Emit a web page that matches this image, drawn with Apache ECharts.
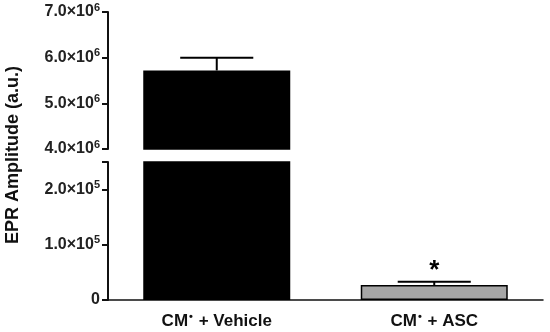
<!DOCTYPE html>
<html><head><meta charset="utf-8">
<script src="https://cdn.jsdelivr.net/npm/echarts@6/dist/echarts.min.js"></script>
<style>html,body{margin:0;padding:0;background:#fff}#c{width:550px;height:332px}</style>
</head><body><div id="c"></div>
<script>
// ---- data ----
const categories = ['Vehicle', 'ASC'];
const catPrefix = 'CM';
const means = [5.72e6, 2.7e4];
const errHigh = [6.0e6, 3.3e4];
const significant = [false, true];
const barColors = ['#000000', '#a6a6a6'];
const topTicks = [4e6, 5e6, 6e6, 7e6];
const bottomTicks = [0, 1e5, 2e5];
const topRange = [4e6, 7e6];
const bottomRange = [0, 2.5e5];
const yTitle = 'EPR Amplitude (a.u.)';

const FONT = 'Liberation Sans, Arial, sans-serif';
const chart = echarts.init(document.getElementById('c'), null, {renderer: 'canvas'});

function sciLabel(ticks) {
  return function (v) {
    if (ticks.indexOf(v) < 0) return '';
    if (v === 0) return '{n|0}';
    const e = Math.floor(Math.log10(v));
    const m = (v / Math.pow(10, e)).toFixed(1);
    return '{n|' + m + '×10}{s|' + e + '}';
  };
}
const labelRich = {
  n: {fontFamily: FONT, fontWeight: 'bold', fontSize: 16, color: '#222'},
  s: {fontFamily: FONT, fontWeight: 'bold', fontSize: 11, color: '#222', padding: [0, 0, 9, 0]}
};
function yAxisCfg(grid, range, ticks) {
  return {
    gridIndex: grid, type: 'value', min: range[0], max: range[1], interval: ticks[1] - ticks[0],
    axisLine: {show: true, lineStyle: {color: '#111', width: 2}},
    axisTick: {show: true, length: 6, lineStyle: {color: '#111', width: 2}},
    splitLine: {show: false},
    axisLabel: {margin: 8, formatter: sciLabel(ticks), rich: labelRich}
  };
}
function barData(limitLow) {
  return means.map((v, i) => ({
    value: v >= limitLow ? v : '-',
    itemStyle: {color: barColors[i], borderColor: '#000', borderWidth: 1.5}
  }));
}
function errRender(range) {
  return function (params, api) {
    const i = api.value(0), v = api.value(1), hi = api.value(2), sig = api.value(3);
    if (v < range[0] || hi > range[1]) return null;
    const p1 = api.coord([i, v]);
    const p2 = api.coord([i, hi]);
    const half = api.size([1, 0])[0] * 0.168;
    const st = {stroke: '#000', lineWidth: 2};
    const children = [
      {type: 'line', shape: {x1: p1[0], y1: p1[1], x2: p2[0], y2: p2[1]}, style: st},
      {type: 'line', shape: {x1: p2[0] - half, y1: p2[1], x2: p2[0] + half, y2: p2[1]}, style: st}
    ];
    if (sig) {
      children.push({type: 'text', style: {text: '*', x: p2[0], y: p2[1] + 2, textAlign: 'center', textVerticalAlign: 'bottom',
        font: 'bold 26px ' + FONT, fill: '#000'}});
    }
    return {type: 'group', children: children};
  };
}
const errData = means.map((v, i) => [i, v, errHigh[i], significant[i] ? 1 : 0]);

chart.setOption({
  animation: false,
  backgroundColor: '#fff',
  grid: [
    {left: 108, right: 7, top: 12, height: 137},
    {left: 108, right: 7, top: 162, height: 138}
  ],
  xAxis: [
    {gridIndex: 0, type: 'category', data: categories, show: false},
    {gridIndex: 1, type: 'category', data: categories,
      axisLine: {show: true, lineStyle: {color: '#111', width: 1.5}},
      axisTick: {show: false},
      axisLabel: {margin: 11, formatter: c => '{a|' + catPrefix + '}{s|•}{a| + ' + c + '}',
        rich: {
          a: {fontFamily: FONT, fontWeight: 'bold', fontSize: 17, color: '#111'},
          s: {fontFamily: FONT, fontWeight: 'bold', fontSize: 11, color: '#111', padding: [0, 1, 9, 1]}
        }}}
  ],
  yAxis: [yAxisCfg(0, topRange, topTicks), yAxisCfg(1, bottomRange, bottomTicks)],
  graphic: [{type: 'text', x: 13, y: 155, rotation: Math.PI / 2,
    style: {text: yTitle, textAlign: 'center', textVerticalAlign: 'middle', font: 'bold 18px ' + FONT, fill: '#111'}}],
  series: [
    {type: 'bar', xAxisIndex: 0, yAxisIndex: 0, barWidth: 147, data: barData(topRange[0]), clip: true},
    {type: 'bar', xAxisIndex: 1, yAxisIndex: 1, barWidth: 147, data: barData(bottomRange[0]), clip: true},
    {type: 'custom', xAxisIndex: 0, yAxisIndex: 0, data: errData, renderItem: errRender(topRange), z: 3},
    {type: 'custom', xAxisIndex: 1, yAxisIndex: 1, data: errData, renderItem: errRender(bottomRange), z: 3}
  ]
});
</script></body></html>
